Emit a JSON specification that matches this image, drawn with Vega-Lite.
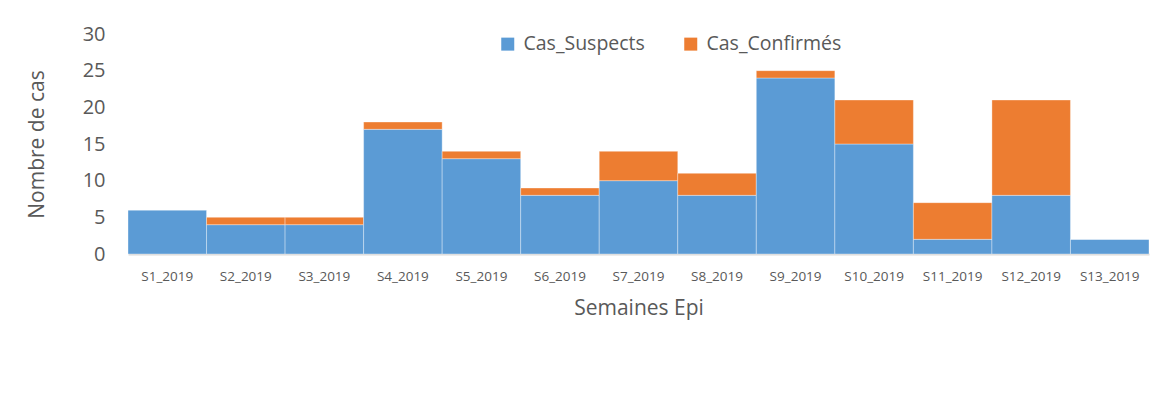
{
  "$schema": "https://vega.github.io/schema/vega-lite/v6.json",
  "width": 1021,
  "height": 220,
  "autosize": "none",
  "padding": {"left": 128, "top": 34, "right": 20, "bottom": 161},
  "background": "white",
  "data": {
    "values": [
      {"semaine": "S1_2019", "type": "Cas_Suspects", "cas": 6, "rang": 1},
      {"semaine": "S1_2019", "type": "Cas_Confirmés", "cas": 0, "rang": 2},
      {"semaine": "S2_2019", "type": "Cas_Suspects", "cas": 4, "rang": 1},
      {"semaine": "S2_2019", "type": "Cas_Confirmés", "cas": 1, "rang": 2},
      {"semaine": "S3_2019", "type": "Cas_Suspects", "cas": 4, "rang": 1},
      {"semaine": "S3_2019", "type": "Cas_Confirmés", "cas": 1, "rang": 2},
      {"semaine": "S4_2019", "type": "Cas_Suspects", "cas": 17, "rang": 1},
      {"semaine": "S4_2019", "type": "Cas_Confirmés", "cas": 1, "rang": 2},
      {"semaine": "S5_2019", "type": "Cas_Suspects", "cas": 13, "rang": 1},
      {"semaine": "S5_2019", "type": "Cas_Confirmés", "cas": 1, "rang": 2},
      {"semaine": "S6_2019", "type": "Cas_Suspects", "cas": 8, "rang": 1},
      {"semaine": "S6_2019", "type": "Cas_Confirmés", "cas": 1, "rang": 2},
      {"semaine": "S7_2019", "type": "Cas_Suspects", "cas": 10, "rang": 1},
      {"semaine": "S7_2019", "type": "Cas_Confirmés", "cas": 4, "rang": 2},
      {"semaine": "S8_2019", "type": "Cas_Suspects", "cas": 8, "rang": 1},
      {"semaine": "S8_2019", "type": "Cas_Confirmés", "cas": 3, "rang": 2},
      {"semaine": "S9_2019", "type": "Cas_Suspects", "cas": 24, "rang": 1},
      {"semaine": "S9_2019", "type": "Cas_Confirmés", "cas": 1, "rang": 2},
      {"semaine": "S10_2019", "type": "Cas_Suspects", "cas": 15, "rang": 1},
      {"semaine": "S10_2019", "type": "Cas_Confirmés", "cas": 6, "rang": 2},
      {"semaine": "S11_2019", "type": "Cas_Suspects", "cas": 2, "rang": 1},
      {"semaine": "S11_2019", "type": "Cas_Confirmés", "cas": 5, "rang": 2},
      {"semaine": "S12_2019", "type": "Cas_Suspects", "cas": 8, "rang": 1},
      {"semaine": "S12_2019", "type": "Cas_Confirmés", "cas": 13, "rang": 2},
      {"semaine": "S13_2019", "type": "Cas_Suspects", "cas": 2, "rang": 1},
      {"semaine": "S13_2019", "type": "Cas_Confirmés", "cas": 0, "rang": 2}
    ]
  },
  "mark": {"type": "bar", "stroke": "white", "strokeWidth": 1, "strokeOpacity": 0.35},
  "encoding": {
    "x": {
      "field": "semaine",
      "type": "nominal",
      "sort": null,
      "scale": {"paddingInner": 0, "paddingOuter": 0},
      "axis": {
        "title": "Semaines Epi",
        "labelAngle": 0,
        "ticks": false,
        "domainColor": "#d9d9d9",
        "domainWidth": 2,
        "labelFont": "Open Sans",
        "labelFontSize": 13.5,
        "labelColor": "#595959",
        "labelPadding": 15,
        "titleFont": "Open Sans",
        "titleFontSize": 21,
        "titleFontWeight": "normal",
        "titleColor": "#595959",
        "titlePadding": 15
      }
    },
    "y": {
      "field": "cas",
      "type": "quantitative",
      "stack": "zero",
      "scale": {"domain": [0, 30], "nice": false},
      "axis": {
        "title": "Nombre de cas",
        "values": [0, 5, 10, 15, 20, 25, 30],
        "grid": false,
        "ticks": false,
        "domain": false,
        "labelFont": "Open Sans",
        "labelFontSize": 20,
        "labelColor": "#595959",
        "labelPadding": 23,
        "titleFont": "Open Sans",
        "titleFontSize": 21,
        "titleFontWeight": "normal",
        "titleColor": "#595959",
        "titlePadding": 35
      }
    },
    "color": {
      "field": "type",
      "type": "nominal",
      "scale": {"domain": ["Cas_Suspects", "Cas_Confirmés"], "range": ["#5B9BD5", "#ED7D31"]},
      "legend": {
        "title": null,
        "orient": "none",
        "direction": "horizontal",
        "legendX": 370,
        "legendY": 0,
        "symbolType": "square",
        "symbolSize": 169,
        "symbolStrokeWidth": 0,
        "labelFont": "Open Sans",
        "labelFontSize": 19.5,
        "labelColor": "#595959",
        "labelOffset": 6,
        "columnPadding": 36
      }
    },
    "order": {"field": "rang", "type": "quantitative", "sort": "ascending"}
  },
  "config": {"view": {"stroke": null}}
}
